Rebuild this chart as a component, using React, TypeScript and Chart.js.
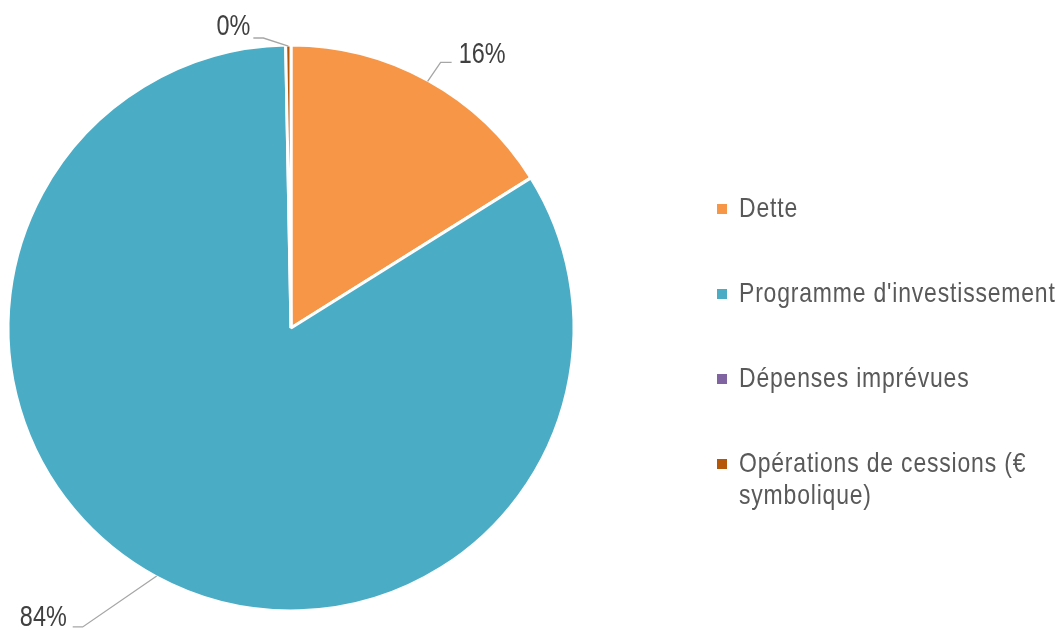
import React, { useEffect, useRef } from 'react';
import { Chart, registerables } from 'chart.js';

Chart.register(...registerables);

const categories = ['Dette', "Programme d'investissement", 'Dépenses imprévues', 'Opérations de cessions (€ symbolique)'];
const values = [16.1, 83.6, 0, 0.3];
const colors = ['#F79646', '#4BACC6', '#8064A2', '#B65708'];

// label placement: elbow offset from arc edge anchor, horizontal stub length, side, text gap, text vertical offset
const labelPlacement = [
  { dx: 13, dy: -19, stub: 11, side: 'right', gap: 7, ty: -8 },
  { dx: -74, dy: 51, stub: -10, side: 'left', gap: 6, ty: -9 },
  { dx: 0, dy: 0, stub: 0, side: 'none', gap: 0, ty: 0 },
  { dx: -25, dy: -8, stub: -10, side: 'left', gap: 3, ty: -11 },
];

const FONT = '"Liberation Sans", Arial, sans-serif';
const NARROW = 0.78;

function drawNarrow(ctx: CanvasRenderingContext2D, text: string, x: number, y: number, align: CanvasTextAlign, s: number) {
  ctx.save();
  ctx.translate(x, y);
  ctx.scale(s, 1);
  ctx.textAlign = align;
  ctx.fillText(text, 0, 0);
  ctx.restore();
}

const labelsPlugin = {
  id: 'pieLabels',
  afterDatasetsDraw(chart: any) {
    const ctx = chart.ctx as CanvasRenderingContext2D;
    const meta = chart.getDatasetMeta(0);
    const data = chart.data.datasets[0].data as number[];
    const total = data.reduce((a, b) => a + b, 0);
    ctx.save();
    ctx.font = `30px ${FONT}`;
    ctx.textBaseline = 'middle';
    meta.data.forEach((arc: any, i: number) => {
      const v = data[i];
      const p = labelPlacement[i];
      if (!v || p.side === 'none') return;
      const { x, y, startAngle, endAngle, outerRadius } = arc.getProps(['x', 'y', 'startAngle', 'endAngle', 'outerRadius'], true);
      const mid = (startAngle + endAngle) / 2;
      const ax = x + Math.cos(mid) * (outerRadius - 1);
      const ay = y + Math.sin(mid) * (outerRadius - 1);
      const ex = ax + p.dx;
      const ey = ay + p.dy;
      const hx = ex + p.stub;
      ctx.strokeStyle = '#A6A6A6';
      ctx.lineWidth = 1.3;
      ctx.beginPath();
      ctx.moveTo(ax, ay);
      ctx.lineTo(ex, ey);
      ctx.lineTo(hx, ey);
      ctx.stroke();
      const txt = Math.round((v / total) * 100) + '%';
      ctx.fillStyle = '#404040';
      if (p.side === 'right') {
        drawNarrow(ctx, txt, hx + p.gap, ey + p.ty, 'left', NARROW);
      } else {
        drawNarrow(ctx, txt, hx - p.gap, ey + p.ty, 'right', NARROW);
      }
    });
    ctx.restore();
  },
};

const legendPlugin = {
  id: 'sideLegend',
  afterDraw(chart: any) {
    const ctx = chart.ctx as CanvasRenderingContext2D;
    const labels = chart.data.labels as string[];
    const bg = chart.data.datasets[0].backgroundColor as string[];
    ctx.save();
    ctx.font = `28px ${FONT}`;
    try { (ctx as any).letterSpacing = '1px'; } catch (e) {}
    ctx.textBaseline = 'middle';
    const x0 = 717;
    const tx = 739;
    const maxW = 330 / 0.82;
    labels.forEach((lab, i) => {
      const cy = 209 + i * 85;
      ctx.fillStyle = bg[i];
      ctx.fillRect(x0, cy - 5, 10, 10);
      const words = lab.split(' ');
      const lines: string[] = [];
      let cur = '';
      words.forEach((w) => {
        const test = cur ? cur + ' ' + w : w;
        if (ctx.measureText(test).width > maxW && cur) {
          lines.push(cur);
          cur = w;
        } else cur = test;
      });
      if (cur) lines.push(cur);
      ctx.fillStyle = '#595959';
      lines.forEach((ln, j) => {
        drawNarrow(ctx, ln, tx, cy + j * 32, 'left', 0.82);
      });
    });
    ctx.restore();
  },
};

export default function App() {
  const ref = useRef<HTMLCanvasElement>(null);
  useEffect(() => {
    document.body.style.margin = '0';
    const chart = new Chart(ref.current!, {
      type: 'pie',
      data: {
        labels: categories,
        datasets: [
          {
            data: values,
            backgroundColor: colors,
            borderColor: '#FFFFFF',
            borderWidth: 3,
            radius: 283,
          } as any,
        ],
      },
      options: {
        animation: false,
        responsive: true,
        maintainAspectRatio: false,
        layout: { padding: { left: 0, right: 481, top: 22, bottom: 0 } },
        plugins: {
          legend: { display: false },
          tooltip: { enabled: false },
        },
      },
      plugins: [labelsPlugin, legendPlugin],
    });
    return () => chart.destroy();
  }, []);
  return (
    <div style={{ position: 'fixed', left: 0, top: 0, width: 1063, height: 634, background: '#fff' }}>
      <canvas ref={ref} />
    </div>
  );
}
